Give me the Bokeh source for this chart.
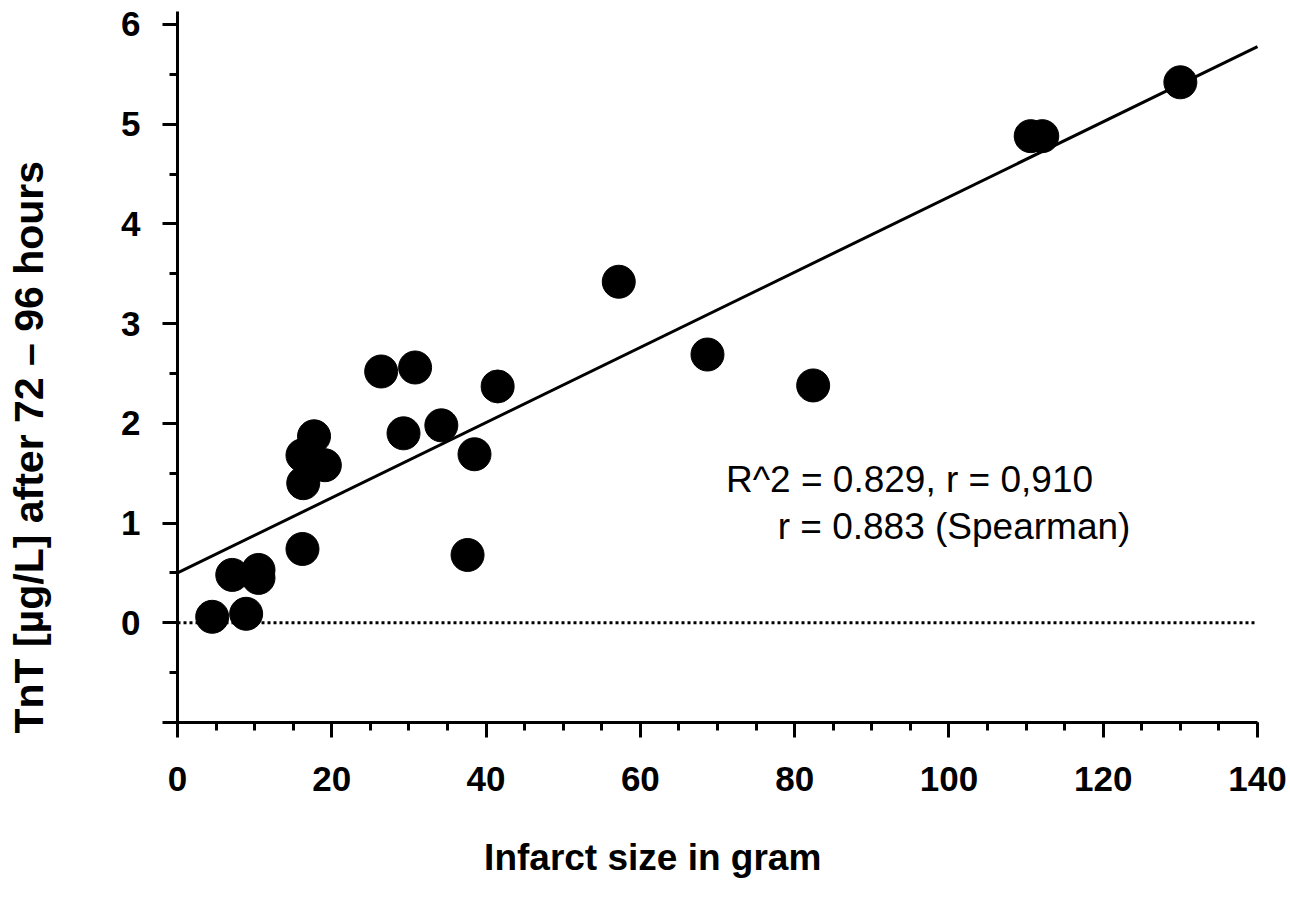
import math
from bokeh.plotting import figure
from bokeh.models import (Range1d, SingleIntervalTicker, ColumnDataSource, LinearAxis,
                          Label)
from bokeh.core.properties import value
from bokeh.embed import file_html
from bokeh.resources import INLINE

# Data
infarct_size = [4.5, 8.9, 7.1, 10.5, 10.5, 16.2, 16.3, 16.2, 17.7, 19.1, 26.4, 30.8,
                29.3, 34.2, 38.5, 37.6, 41.5, 57.2, 68.7, 82.4, 110.6, 112.1, 130.0]
tnt = [0.06, 0.09, 0.48, 0.53, 0.45, 0.74, 1.40, 1.68, 1.87, 1.58, 2.52, 2.56,
       1.90, 1.98, 1.69, 0.68, 2.37, 3.42, 2.69, 2.38, 4.88, 4.88, 5.42]

fit_intercept = 0.50
fit_slope = 0.0377

# axis extents
x_min, x_max = 0, 140
y_min, y_max = -1, 6.13

ann_text = ["R^2 = 0.829, r = 0,910", "r = 0.883 (Spearman)"]
ann_x = [71.1, 77.8]
ann_y = [1.44, 0.97]

x_title = "Infarct size in gram"
y_title = "TnT [µg/L] after 72 – 96 hours"

FONT = "Liberation Sans"

# canvas layout (pixels) -> visible data window
W, H = 1290, 905
frame_left, frame_right, frame_top, frame_bottom = 177, 1257, 11, 722
kx = (frame_right - frame_left) / (x_max - x_min)
ky = (frame_bottom - frame_top) / (y_max - y_min)
view_x = (x_min - frame_left / kx, x_max + (W - frame_right) / kx)
view_y = (y_min - (H - frame_bottom) / ky, y_max + frame_top / ky)

p = figure(width=W, height=H, output_backend="svg", toolbar_location=None,
           x_range=Range1d(*view_x), y_range=Range1d(*view_y),
           x_axis_type=None, y_axis_type=None,
           min_border=0, background_fill_color="white",
           border_fill_color="white", outline_line_color=None)

p.xgrid.visible = False
p.ygrid.visible = False

# zero reference line (dotted)
p.line(x=[x_min, x_max], y=[0, 0], line_color="black", line_width=3, line_dash="3 3")

# regression line
fit_x = [x_min, x_max]
fit_y = [fit_intercept + fit_slope * v for v in fit_x]
p.line(x=fit_x, y=fit_y, line_color="black", line_width=3)

src = ColumnDataSource(dict(x=infarct_size, y=tnt))
p.scatter(x="x", y="y", source=src, size=33, fill_color="black", line_color="black")

p.text(x=ann_x, y=ann_y, text=ann_text, text_font=value(FONT), text_font_size="37px",
       text_color="black", text_baseline="alphabetic", text_align="left")

def make_axis(loc, bounds, ticker, standoff):
    ax = LinearAxis(fixed_location=loc, bounds=bounds, ticker=ticker)
    ax.axis_line_width = 3
    ax.axis_line_color = "black"
    ax.major_tick_line_width = 3
    ax.minor_tick_line_width = 3
    ax.major_tick_in = 0
    ax.major_tick_out = 15
    ax.minor_tick_in = 0
    ax.minor_tick_out = 8
    ax.major_label_text_font = FONT
    ax.major_label_text_font_style = "bold"
    ax.major_label_text_font_size = "35px"
    ax.major_label_text_color = "black"
    ax.major_label_standoff = standoff
    return ax

xaxis = make_axis(y_min, (x_min, x_max), SingleIntervalTicker(interval=20, num_minor_ticks=4), 29)
yaxis = make_axis(x_min, (y_min, y_max), SingleIntervalTicker(interval=1, num_minor_ticks=2), 22)
yaxis.major_label_overrides = {-1: ""}
p.add_layout(xaxis, "below")
p.add_layout(yaxis, "left")

# axis titles (placed where they sit in the reference)
p.add_layout(Label(x=61.6, y=-2.354, text=x_title, text_font=FONT,
                   text_font_style="bold", text_font_size="37px", text_color="black",
                   text_align="center", text_baseline="middle"))
p.add_layout(Label(x=-19.2, y=1.76, text=y_title, text_font=FONT, angle=math.pi / 2,
                   text_font_style="bold", text_font_size="41px", text_color="black",
                   text_align="center", text_baseline="middle"))

open("out.html", "w").write(file_html(p, INLINE))
